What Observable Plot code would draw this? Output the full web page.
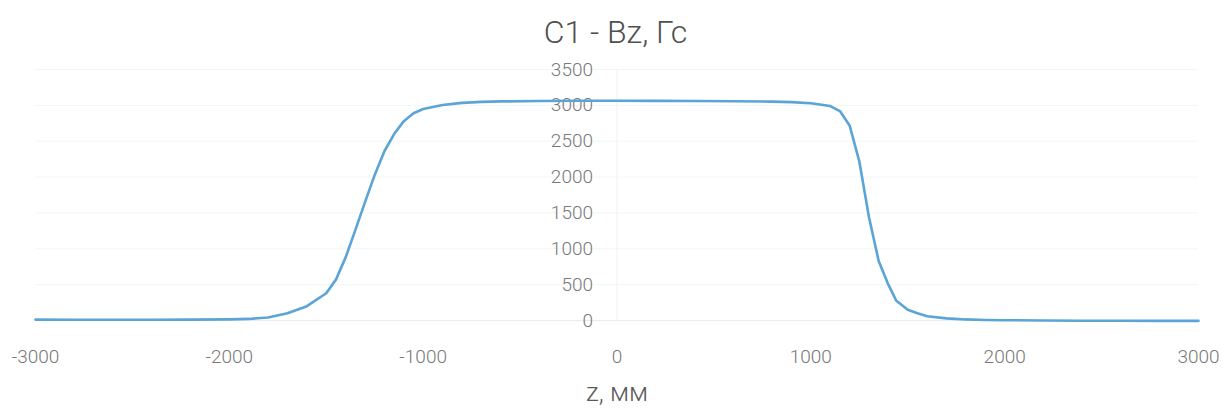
<!DOCTYPE html>
<html>
<head>
<meta charset="utf-8">
<script src="https://cdn.jsdelivr.net/npm/d3@7"></script>
<script src="https://cdn.jsdelivr.net/npm/@observablehq/plot@0.6"></script>
<style>
  html, body { margin: 0; padding: 0; background: #fff; }
  #title { width: 1231px; height: 55px; box-sizing: border-box; padding-top: 14px; text-align: center;
           font-family: Roboto, sans-serif; font-weight: 300; font-size: 32px; line-height: 36px; color: #505050; }
  #chart svg { display: block; }
</style>
</head>
<body>
<div id="title">C1 - Bz, Гс</div>
<div id="chart"></div>
<script>
const titleText = "C1 - Bz, Гс";
const xLabel = "z, мм";
const zValues = [-3000,-2800,-2600,-2400,-2200,-2000,-1900,-1800,-1700,-1600,-1500,-1450,-1400,-1350,-1300,-1250,-1200,-1150,-1100,-1050,-1000,-900,-800,-700,-600,-400,-200,0,200,400,600,800,900,1000,1100,1150,1200,1250,1300,1350,1400,1440,1500,1550,1600,1700,1800,1900,2000,2200,2400,2600,2800,3000];
const bzValues = [12,11,10,10,12,16,22,42,100,200,380,570,880,1260,1650,2030,2360,2600,2780,2890,2950,3005,3035,3048,3055,3060,3065,3065,3062,3060,3058,3052,3045,3030,2990,2920,2720,2220,1440,830,500,280,150,100,60,30,15,8,4,0,-3,-4,-5,-5];
const xTicks = [-3000,-2000,-1000,0,1000,2000,3000];
const yTicks = [0,500,1000,1500,2000,2500,3000,3500];

const data = zValues.map((z, i) => ({z, bz: bzValues[i]}));
const font = "Roboto, sans-serif";

const chart = Plot.plot({
  width: 1231,
  height: 360,
  marginLeft: 35,
  marginRight: 33,
  marginTop: 14,
  marginBottom: 95,
  style: {fontFamily: font, background: "#fff"},
  x: {domain: [-3000, 3000]},
  y: {domain: [0, 3500], axis: null},
  marks: [
    Plot.ruleY(yTicks.filter(d => d !== 0), {y: d => d, stroke: "#f2f5f7", strokeWidth: 1}),
    Plot.ruleX([0], {x: d => d, stroke: "#eef1f4", strokeWidth: 1}),
    Plot.ruleY([0], {y: d => d, stroke: "#e8ecef", strokeWidth: 1}),
    Plot.axisX(xTicks, {
      tickSize: 0, tickPadding: 29, tickFormat: d => String(d),
      fontSize: 19, fill: "#777", fontWeight: 300, label: null
    }),
    Plot.text(yTicks, {
      x: 0, y: d => d, text: d => String(d), dx: -24, textAnchor: "end",
      fontSize: 19, fill: "#777", fontWeight: 300
    }),
    Plot.line(data, {x: "z", y: "bz", stroke: "#5aa4d6", strokeWidth: 2.6}),
    Plot.text([xLabel], {
      frameAnchor: "bottom", dy: 80, text: d => d,
      fontSize: 26, fill: "#595959", fontWeight: 300
    })
  ]
});
document.getElementById("chart").appendChild(chart);
</script>
</body>
</html>
